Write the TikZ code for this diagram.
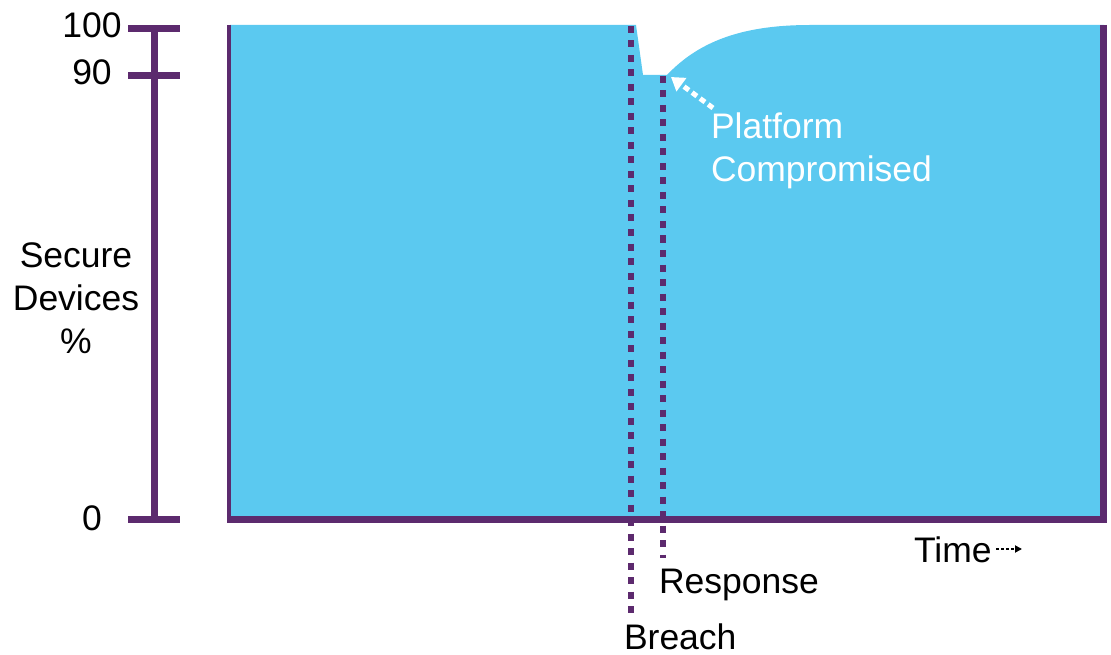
\documentclass[tikz,border=0pt]{standalone}
\usepackage{fontspec}
\setmainfont{Liberation Sans}
\usetikzlibrary{arrows.meta}
\definecolor{sky}{HTML}{5BC9F0}
\definecolor{plum}{HTML}{5C2A6E}
\begin{document}
\begin{tikzpicture}[x=1pt,y=-1pt,
  lbl/.style={font=\fontsize{35.5}{43}\selectfont, inner sep=0pt, outer sep=0pt},
  dotline/.style={plum, line width=6pt, dash pattern=on 7pt off 7.5pt},
  axis/.style={plum, line width=7pt}]
\useasboundingbox (0,0) rectangle (1111,655);
% filled area
\fill[sky] (230,25) -- (636,25) -- (643,75) -- (667,75)
  .. controls (700,40) and (745,25) .. (810,25) -- (1104,25) -- (1104,519) -- (230,519) -- cycle;
% frame
\draw[plum, line width=4pt] (229,25) -- (229,519);
\draw[axis] (1103.5,25) -- (1103.5,519) -- (227,519);
% y axis
\draw[axis] (154,28.5) -- (154,519.5);
\draw[axis] (128,28.5) -- (180,28.5);
\draw[axis] (128,75.5) -- (180,75.5);
\draw[axis] (128,519.5) -- (180,519.5);
\node[lbl, anchor=base] (l100) at (92,38) {100};
\node[lbl, anchor=base] (l90) at (92,85) {90};
\node[lbl, anchor=base] (l0) at (92,530) {0};
\node[lbl, anchor=base, align=center] (ylab) at (76,353) {Secure\\Devices\\\%};
% breach & response
\coordinate (btop) at (631,26);
\coordinate (bbot) at (631,615);
\coordinate (rtop) at (663,76);
\coordinate (rbot) at (663,558);
\draw[dotline] (btop) -- (bbot);
\draw[dotline] (rtop) -- (rbot);
\node[lbl, anchor=base west] (breach) at (624,649) {Breach};
\node[lbl, anchor=base west] (resp) at (659,593) {Response};
\node[lbl, anchor=base west] (time) at (914,562) {Time};
\coordinate (tstart) at (996,549);
\coordinate (tarr) at (1022,549);
\draw[line width=2.2pt, dash pattern=on 3pt off 2pt, -{Triangle[length=7pt,width=7pt]}] (tstart) -- (tarr);
% platform compromised
\node[lbl, anchor=base west, align=left, text=white] (plat) at (711,182) {Platform\\Compromised};
\coordinate (ptip) at (671,77);
\draw[white, line width=5pt, dash pattern=on 6pt off 4pt, -{Triangle[length=13pt,width=16pt]}] (713,108) -- (ptip);
\end{tikzpicture}
\end{document}
